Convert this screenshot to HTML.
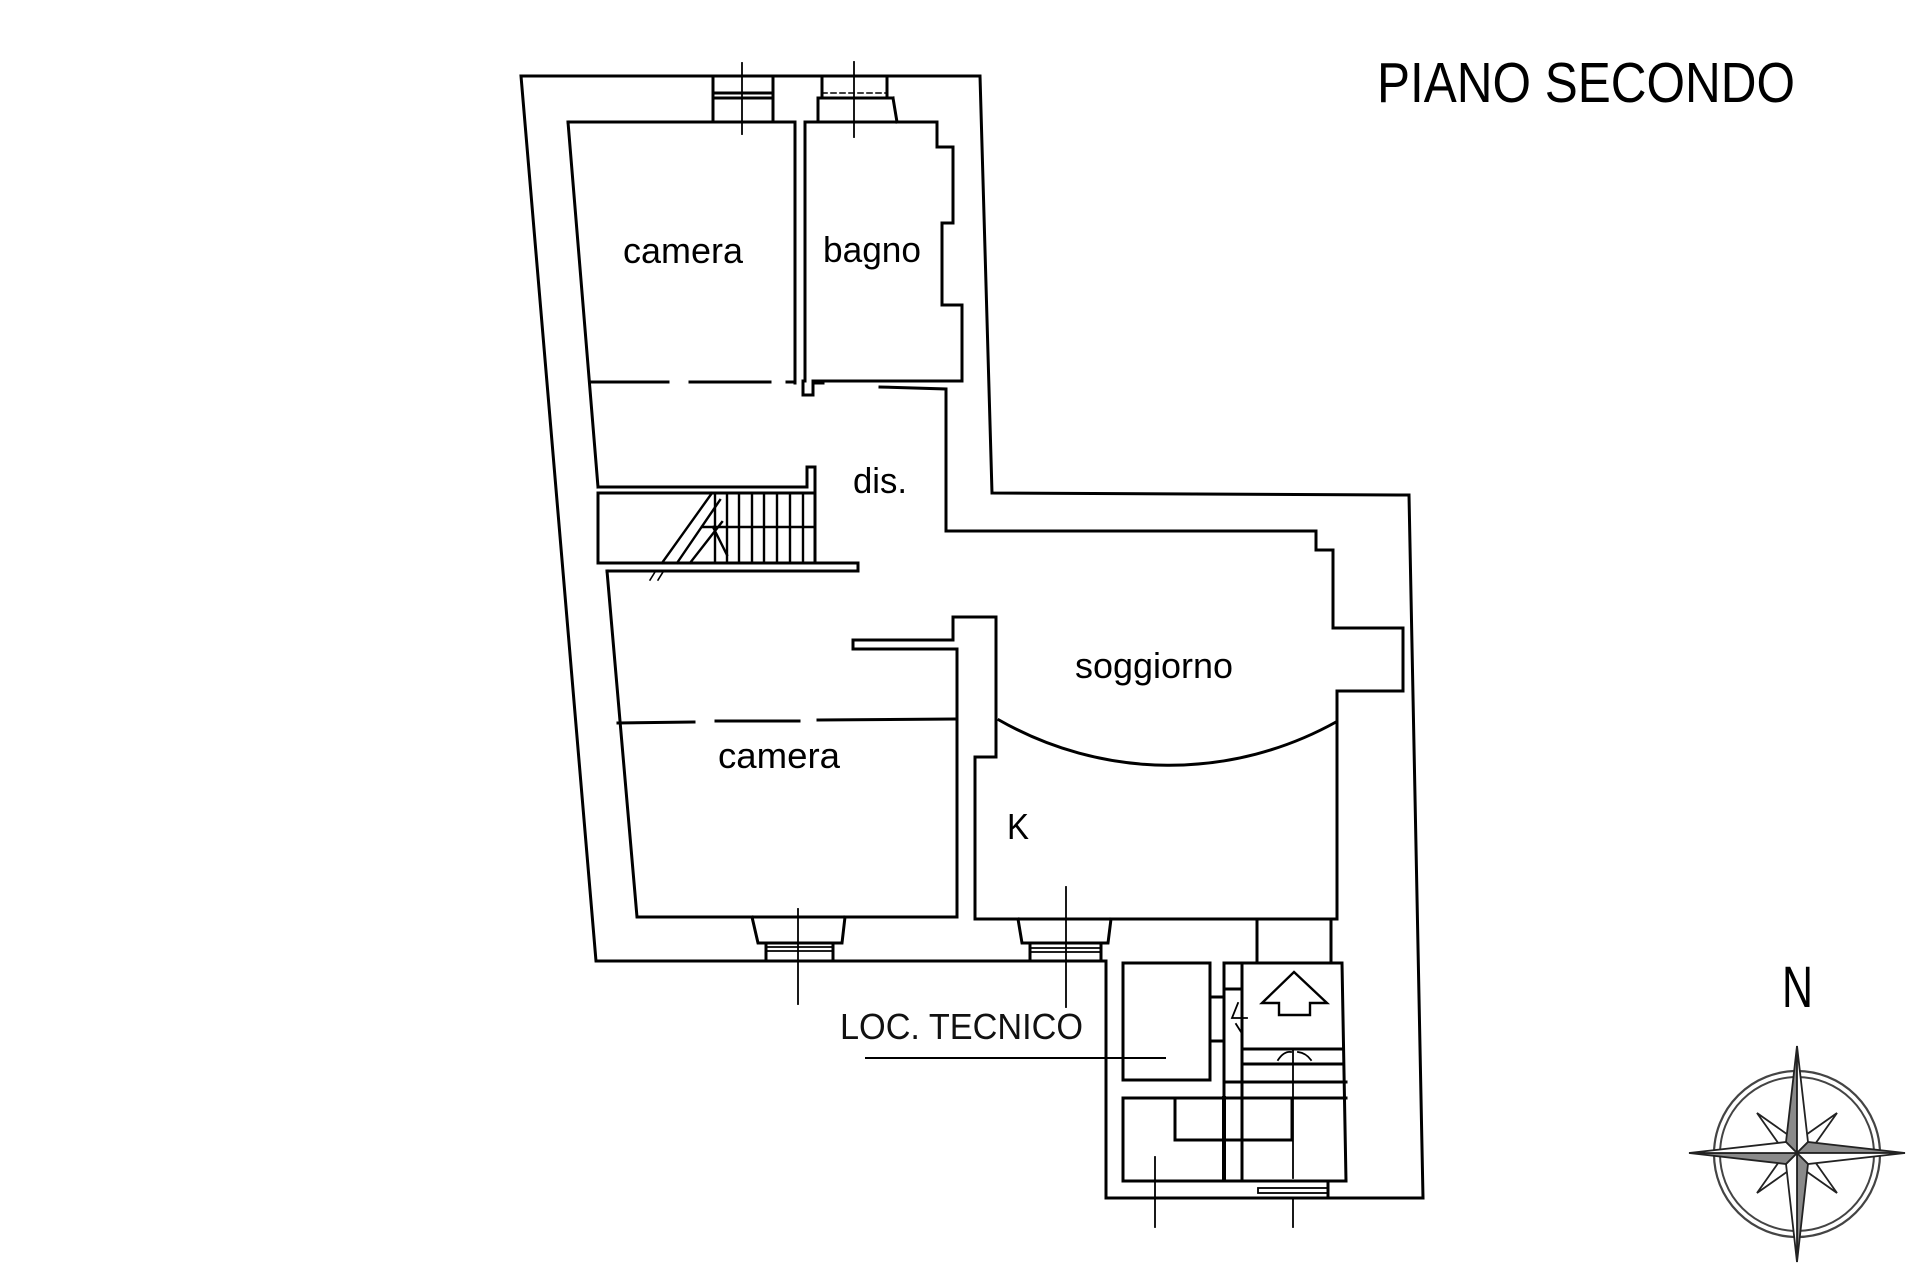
<!DOCTYPE html>
<html><head><meta charset="utf-8"><style>
html,body{margin:0;padding:0;background:#fff;}
svg{display:block}
</style></head><body>
<svg width="1920" height="1280" viewBox="0 0 1920 1280" xmlns="http://www.w3.org/2000/svg">
<rect width="1920" height="1280" fill="#fff"/>
<g fill="none" stroke="#000" stroke-width="3" stroke-linejoin="miter" stroke-linecap="square">
<!-- outer boundary -->
<path d="M521 76 L980 76 L992 493 L1409 495 L1423 1198 L1106 1198 L1106 961 L596 961 Z"/>
<!-- upper camera -->
<path d="M568 122 L795 122"/>
<path d="M568 122 L598 487"/>
<!-- partition camera/bagno -->
<path d="M795 122 L795 383"/>
<path d="M805 122 L805 381"/>
<path d="M803 381 L803 395 L813 395 L813 383 L823 383"/>
<!-- bagno -->
<path d="M805 122 L937 122 L937 147 L953 147 L953 223 L942 223 L942 305 L962 305 L962 381 L813 381"/>
<!-- camera bottom dashed -->
<path d="M590 382 L668 382 M690 382 L770 382 M787 382 L795 382"/>
<!-- stair top wall + newel -->
<path d="M598 487 L807 487 L807 467 L815 467 L815 563"/>
<!-- stair box -->
<path d="M598 493 L815 493"/>
<path d="M598 493 L598 563"/>
<path d="M598 563 L858 563 L858 571 L607 571"/>
<!-- stair treads -->
<path stroke-width="2.4" d="M715 493 L715 563 M727 493 L727 563 M739 493 L739 563 M752 493 L752 563 M764 493 L764 563 M777 493 L777 563 M790 493 L790 563 M803 493 L803 563 M702 527 L815 527"/>
<path stroke-width="2.4" d="M662 563 L712 493 M677 563 L720 500 M690 563 L722 522 M713 527 L727 555"/>
<path stroke-width="1.6" d="M650 580 L655 572 M658 580 L663 572"/>
<!-- lower camera + K + soggiorno inner -->
<path d="M607 571 L637 917 L957 917 L957 649 L853 649 L853 640 L953 640 L953 617 L996 617 L996 757 L975 757 L975 919 L1337 919 L1337 691 L1403 691 L1403 628 L1333 628 L1333 550 L1316 550 L1316 531 L946 531 L946 389 L880 387"/>
<!-- lower camera dashed -->
<path d="M618 723 L694 722 M716 721 L799 721 M818 720 L954 719"/>
<!-- soggiorno arc -->
<path d="M999 720 A343 343 0 0 0 1336 722"/>
<!-- top windows -->
<path d="M713 76 L713 122 M773 76 L773 122 M713 93 L773 93 M713 98 L773 98"/>
<path stroke-width="1.8" d="M742 63 L742 134"/>
<path d="M822 76 L822 98 M887 76 L887 98 M818 98 L893 98 M818 98 L818 122 M893 98 L897 122"/>
<path stroke-width="1.6" stroke-dasharray="5 4" d="M822 93 L887 93"/>
<path stroke-width="1.8" d="M854 62 L854 137"/>
<!-- bottom windows -->
<path d="M752 917 L758 943 L842 943 L845 917 M766 943 L766 961 M833 943 L833 961"/>
<path stroke-width="1.8" d="M766 947 L833 947 M766 951 L833 951"/>
<path stroke-width="1.8" d="M798 909 L798 1004"/>
<path d="M1018 919 L1022 943 L1108 943 L1111 919 M1030 943 L1030 961 M1101 943 L1101 961"/>
<path stroke-width="1.8" d="M1030 948 L1101 948 M1030 952 L1101 952"/>
<path stroke-width="1.8" d="M1066 887 L1066 1007"/>
<!-- below K -->
<path d="M1257 919 L1257 963 M1331 919 L1331 963"/>
<!-- annex -->
<rect x="1123" y="963" width="87" height="117"/>
<path d="M1210 997 L1224 997 M1210 1041 L1224 1041"/>
<path d="M1224 963 L1224 1098 M1224 963 L1342 963 L1346 1181 M1224 989 L1242 989 M1242 963 L1242 1181"/>
<path stroke-width="4" d="M1224 1098 L1224 1178"/>
<path d="M1242 1049 L1342 1049 M1242 1064 L1342 1064 M1224 1082 L1346 1082 M1123 1098 L1346 1098"/>
<path d="M1123 1098 L1123 1181 L1346 1181"/>
<path d="M1175 1098 L1175 1140 L1292 1140 L1292 1098"/>
<path stroke-width="1.8" d="M1293 1050 L1293 1178 M1293 1198 L1293 1227 M1155 1157 L1155 1227"/>
<rect x="1258" y="1188" width="70" height="5" stroke-width="1.8"/>
<path d="M1328 1181 L1328 1198"/>
<path stroke-width="2.4" d="M1294 972 L1327 1003 L1310 1003 L1310 1015 L1279 1015 L1279 1003 L1262 1003 Z"/>
<path stroke-width="1.8" d="M1238 1003 L1232 1018 L1247 1018 M1236 1024 L1241 1032"/>
<path stroke-width="1.8" d="M1278 1060 Q1284 1051 1291 1052 M1298 1052 Q1306 1053 1311 1060"/>
<!-- leader -->
<path stroke-width="2" d="M866 1058 L1165 1058"/>
</g>

<!-- labels -->
<g font-family="'Liberation Sans', 'DejaVu Sans', sans-serif" fill="#000">
<text x="1377" y="102" font-size="57" textLength="418" lengthAdjust="spacingAndGlyphs">PIANO SECONDO</text>
<text x="623" y="263" font-size="36" textLength="120" lengthAdjust="spacingAndGlyphs">camera</text>
<text x="823" y="262" font-size="36" textLength="98" lengthAdjust="spacingAndGlyphs">bagno</text>
<text x="853" y="493" font-size="36" textLength="54" lengthAdjust="spacingAndGlyphs">dis.</text>
<text x="1075" y="678" font-size="36" textLength="158" lengthAdjust="spacingAndGlyphs">soggiorno</text>
<text x="718" y="768" font-size="36" textLength="122" lengthAdjust="spacingAndGlyphs">camera</text>
<text x="1007" y="839" font-size="36" textLength="22" lengthAdjust="spacingAndGlyphs">K</text>
<text x="840" y="1039" font-size="36" fill="#111" textLength="243" lengthAdjust="spacingAndGlyphs">LOC. TECNICO</text>
<text x="1782" y="1007" font-size="58" textLength="31" lengthAdjust="spacingAndGlyphs">N</text>
</g>

<!-- compass -->
<g stroke="#222" stroke-width="1.8" stroke-linejoin="miter">
<circle cx="1797" cy="1154" r="83" fill="none" stroke="#444" stroke-width="2.2"/>
<circle cx="1797" cy="1154" r="77" fill="none" stroke="#444" stroke-width="2"/>
<!-- diagonal arms -->
<polygon points="1837,1113 1813,1147 1803,1137" fill="#fff"/>
<polygon points="1757,1113 1791,1137 1781,1147" fill="#fff"/>
<polygon points="1837,1193 1803,1169 1813,1159" fill="#fff"/>
<polygon points="1757,1193 1781,1159 1791,1169" fill="#fff"/>
<!-- main arms -->
<polygon points="1797,1046 1786,1142 1797,1153" fill="#8a8a8a"/>
<polygon points="1797,1046 1808,1142 1797,1153" fill="#fff"/>
<polygon points="1905,1153 1808,1142 1797,1153" fill="#8a8a8a"/>
<polygon points="1905,1153 1808,1164 1797,1153" fill="#fff"/>
<polygon points="1797,1262 1808,1164 1797,1153" fill="#8a8a8a"/>
<polygon points="1797,1262 1786,1164 1797,1153" fill="#fff"/>
<polygon points="1689,1153 1786,1164 1797,1153" fill="#8a8a8a"/>
<polygon points="1689,1153 1786,1142 1797,1153" fill="#fff"/>
</g>
</svg>
</body></html>
